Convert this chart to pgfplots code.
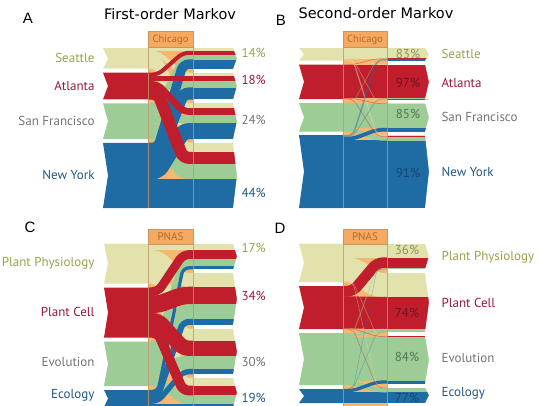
\documentclass[border=0pt]{standalone}
\usepackage{pgfplots}
\pgfplotsset{compat=1.18}
\usepackage{fontspec}
\setmainfont{PT Sans}
\newfontfamily\ttlfont{DejaVu Sans}
\newfontfamily\letfont{Liberation Sans}
\definecolor{cBe}{RGB}{226,227,172}
\definecolor{cRe}{RGB}{192,30,44}
\definecolor{cGr}{RGB}{158,204,150}
\definecolor{cBl}{RGB}{30,108,163}
\definecolor{cOr}{RGB}{248,182,110}
\definecolor{cBox}{RGB}{246,170,96}
\definecolor{cLine}{RGB}{196,150,105}
\definecolor{tOr}{RGB}{180,105,45}
\definecolor{tBe}{RGB}{155,160,75}
\definecolor{tRe}{RGB}{150,25,55}
\definecolor{tGr}{RGB}{110,118,110}
\definecolor{tBl}{RGB}{35,85,130}
\definecolor{pBe}{RGB}{140,145,100}
\definecolor{pRe}{RGB}{110,20,30}
\definecolor{pGr}{RGB}{80,120,80}
\definecolor{pBl}{RGB}{25,70,115}
% rectangle: color, x0, x1, y0, y1
\newcommand{\rect}[5]{\addplot[fill=#1,draw=none] coordinates {(#2,#4) (#3,#4) (#3,#5) (#2,#5)};}
% left block with notch: color, x0, xnotch, x1, T, B, M
\newcommand{\lblock}[7]{\addplot[fill=#1,draw=none] coordinates {(#2,#5) (#4,#5) (#4,#6) (#2,#6) (#3,#7)};}
% white cut for right chevron: x0, x1, xtip, T, B, M
\newcommand{\wcut}[6]{\addplot[fill=white,draw=none] coordinates {(#1,#4) (#2,#4) (#2,#5) (#1,#5) (#3,#6)};}
% flows: color, width, yLeft, yRight
\newcommand{\fa}[4]{\addplot[draw=#1,line width={#2pt+0.3pt},rounded corners=6pt] coordinates {(148,#3) (158,#3) (183,#4) (193,#4)};}
\newcommand{\fb}[4]{\addplot[draw=#1,line width={#2pt+0.3pt},rounded corners=6pt] coordinates {(343,#3) (353,#3) (377,#4) (387,#4)};}
\newcommand{\fbt}[4]{\addplot[draw=#1,line width=#2pt,opacity=0.45,rounded corners=6pt] coordinates {(343,#3) (353,#3) (377,#4) (387,#4)};}
\newcommand{\lab}{\fontsize{13}{15}\selectfont}
\begin{document}
\begin{tikzpicture}
\begin{axis}[scale only axis, width=539pt, height=405pt,
  xmin=0, xmax=539, ymin=0, ymax=405, y dir=reverse, hide axis, clip=true,
  anchor=south west, at={(0,0)}]
% ================= Panel A =================
\rect{cOr}{148}{193}{47}{208}
\lblock{cBe}{103}{108}{148}{48}{68.72}{58.36}
\lblock{cRe}{103}{108}{148}{72.72}{99.36}{86.04}
\lblock{cGr}{103}{108}{148}{103.36}{138.88}{121.12}
\lblock{cBl}{103}{108}{148}{142.88}{208}{175.44}
% right sub-bands
\rect{cBe}{193}{237}{48}{50.90}
\rect{cRe}{193}{237}{50.90}{54.63}
\rect{cGr}{193}{237}{54.63}{59.60}
\rect{cBl}{193}{237}{59.60}{68.72}
\rect{cBe}{193}{237}{72.72}{76.45}
\rect{cRe}{193}{237}{76.45}{81.25}
\rect{cGr}{193}{237}{81.25}{87.64}
\rect{cBl}{193}{237}{87.64}{99.36}
\rect{cBe}{193}{237}{103.36}{108.33}
\rect{cRe}{193}{237}{108.33}{114.72}
\rect{cGr}{193}{237}{114.72}{123.24}
\rect{cBl}{193}{237}{123.24}{138.88}
\rect{cBe}{193}{237}{142.88}{152.00}
\rect{cRe}{193}{237}{152.00}{163.72}
\rect{cGr}{193}{237}{163.72}{179.35}
\rect{cBl}{193}{237}{179.35}{208.0}
\wcut{233}{241}{237}{47.5}{69.2}{58.36}
\wcut{233}{241}{237}{72.2}{99.9}{86.04}
\wcut{233}{241}{237}{102.9}{139.4}{121.12}
\wcut{233}{241}{237}{142.4}{208.5}{175.44}
% flows
\fa{cBe}{2.90}{49.45}{49.45}
\fa{cBe}{3.73}{52.77}{74.59}
\fa{cBe}{4.97}{57.12}{105.85}
\fa{cBe}{9.12}{64.16}{147.44}
\fa{cGr}{4.97}{105.85}{57.12}
\fa{cGr}{6.39}{111.53}{84.45}
\fa{cGr}{8.52}{118.98}{118.98}
\fa{cGr}{15.63}{131.06}{171.54}
\fa{cBl}{9.12}{147.44}{64.16}
\fa{cBl}{11.72}{157.86}{93.50}
\fa{cBl}{15.63}{171.54}{131.06}
\fa{cBl}{28.65}{193.68}{193.68}
\fa{cRe}{3.73}{74.59}{52.77}
\fa{cRe}{4.80}{78.85}{78.85}
\fa{cRe}{6.39}{84.45}{111.53}
\fa{cRe}{11.72}{93.50}{157.86}
\addplot[draw=cLine,line width=0.6pt,opacity=0.8] coordinates {(148,31) (148,208)};
\addplot[draw=cLine,line width=0.6pt,opacity=0.8] coordinates {(193,31) (193,208)};
\addplot[fill=cBox,draw=cLine,line width=0.6pt] coordinates {(148,31) (193,31) (193,47) (148,47) (148,31)};
% ================= Panel B =================
\rect{cOr}{343}{387}{47}{208}
\lblock{cBe}{299}{304}{343}{48}{60.5}{54.25}
\lblock{cRe}{299}{304}{343}{64.5}{99}{81.75}
\lblock{cGr}{299}{304}{343}{103}{131.5}{117.25}
\lblock{cBl}{299}{304}{343}{135}{208}{171.5}
\rect{cBe}{387}{429}{48}{58.4}
\rect{cRe}{387}{429}{58.4}{58.7}
\rect{cGr}{387}{429}{58.7}{59.0}
\rect{cBl}{387}{429}{59.0}{60.5}
\rect{cBe}{387}{429}{64.5}{64.8}
\rect{cRe}{387}{429}{64.8}{98.2}
\rect{cGr}{387}{429}{98.2}{98.5}
\rect{cBl}{387}{429}{98.5}{99.0}
\rect{cBe}{387}{429}{103}{103.5}
\rect{cRe}{387}{429}{103.5}{103.8}
\rect{cGr}{387}{429}{103.8}{128.0}
\rect{cBl}{387}{429}{128.0}{131.5}
\rect{cBe}{387}{429}{135}{136.3}
\rect{cRe}{387}{429}{136.3}{136.8}
\rect{cGr}{387}{429}{136.8}{140.5}
\rect{cBl}{387}{429}{140.5}{208}
\wcut{425}{433}{429}{47.5}{61}{54.25}
\wcut{425}{433}{429}{64}{99.5}{81.75}
\wcut{425}{433}{429}{102.5}{132}{117.25}
\wcut{425}{433}{429}{134.5}{208.5}{171.5}
\fb{cBe}{10.4}{53.2}{53.2}
\fb{cRe}{33.4}{81.5}{81.5}
\fb{cGr}{24.2}{115.7}{115.9}
\fb{cBl}{67.5}{174.25}{174.25}
\fb{cGr}{3.7}{129.65}{138.65}
\fb{cBl}{3.5}{138.75}{129.75}
\fbt{cBe}{0.6}{58.55}{64.65}
\fbt{cBe}{0.6}{58.95}{103.25}
\fbt{cBe}{1.3}{59.85}{135.65}
\fbt{cRe}{0.6}{64.65}{58.55}
\fbt{cRe}{0.6}{98.35}{103.65}
\fbt{cRe}{0.6}{98.75}{136.55}
\fbt{cGr}{0.6}{103.15}{58.85}
\fbt{cGr}{0.6}{103.45}{98.35}
\fbt{cBl}{1.5}{135.75}{59.75}
\fbt{cBl}{0.6}{136.75}{98.75}
\addplot[draw=cLine,line width=0.6pt,opacity=0.8] coordinates {(343,31) (343,208)};
\addplot[draw=cLine,line width=0.6pt,opacity=0.8] coordinates {(387,31) (387,208)};
\addplot[fill=cBox,draw=cLine,line width=0.6pt] coordinates {(343,31) (387,31) (387,47) (343,47) (343,31)};
% ================= Panel C =================
\rect{cOr}{148}{193}{243.5}{407}
\lblock{cBe}{104}{108}{148}{243.5}{283.5}{263.5}
\lblock{cRe}{104}{108}{148}{287.5}{337.5}{312.5}
\lblock{cGr}{104}{108}{148}{341.5}{386}{363.75}
\lblock{cBl}{104}{108}{148}{390}{407}{398.5}
\rect{cBe}{193}{237}{243.5}{250.3}
\rect{cRe}{193}{237}{250.3}{258.8}
\rect{cGr}{193}{237}{258.8}{266.365}
\rect{cBl}{193}{237}{266.365}{269.255}
\rect{cBe}{193}{237}{273.255}{286.855}
\rect{cRe}{193}{237}{286.855}{303.855}
\rect{cGr}{193}{237}{303.855}{318.985}
\rect{cBl}{193}{237}{318.985}{324.765}
\rect{cBe}{193}{237}{328.765}{340.765}
\rect{cRe}{193}{237}{340.765}{355.765}
\rect{cGr}{193}{237}{355.765}{369.115}
\rect{cBl}{193}{237}{369.115}{374.215}
\rect{cBe}{193}{237}{378.215}{385.815}
\rect{cRe}{193}{237}{385.815}{395.315}
\rect{cGr}{193}{237}{395.315}{403.77}
\rect{cBl}{193}{237}{403.77}{407}
\wcut{233}{241}{237}{243}{269.7}{256.4}
\wcut{233}{241}{237}{272.8}{325.2}{299.0}
\wcut{233}{241}{237}{328.3}{374.7}{351.5}
\wcut{233}{241}{237}{377.7}{407.5}{392.6}
\fa{cBe}{6.8}{246.9}{246.9}
\fa{cBe}{13.6}{257.1}{280.055}
\fa{cBe}{12.0}{269.9}{334.765}
\fa{cBe}{7.6}{279.7}{382.015}
\fa{cGr}{7.565}{345.28}{262.58}
\fa{cGr}{15.13}{356.63}{311.42}
\fa{cGr}{13.35}{370.87}{362.44}
\fa{cGr}{8.455}{381.77}{399.54}
\fa{cBl}{2.89}{391.445}{267.81}
\fa{cBl}{5.78}{395.78}{321.875}
\fa{cBl}{5.1}{401.22}{371.665}
\fa{cBl}{3.23}{405.385}{405.385}
\fa{cRe}{8.5}{291.75}{254.55}
\fa{cRe}{17.0}{304.5}{295.355}
\fa{cRe}{15.0}{320.5}{348.265}
\fa{cRe}{9.5}{332.75}{390.565}
\addplot[draw=cLine,line width=0.6pt,opacity=0.8] coordinates {(148,229) (148,407)};
\addplot[draw=cLine,line width=0.6pt,opacity=0.8] coordinates {(193,229) (193,407)};
\addplot[fill=cBox,draw=cLine,line width=0.6pt] coordinates {(148,229) (193,229) (193,244) (148,244) (148,229)};
% ================= Panel D =================
\rect{cOr}{343}{387}{243.5}{407}
\lblock{cBe}{299}{304}{343}{243.5}{282}{262.75}
\lblock{cRe}{299}{304}{343}{286}{329}{307.5}
\lblock{cGr}{299}{304}{343}{333}{385}{359}
\lblock{cBl}{299}{304}{343}{389}{403}{396}
\rect{cBe}{387}{429}{243.5}{257.5}
\rect{cRe}{387}{429}{257.5}{268.0}
\rect{cGr}{387}{429}{268.0}{269.1}
\rect{cBe}{387}{429}{273.1}{297.1}
\rect{cRe}{387}{429}{297.1}{328.9}
\rect{cGr}{387}{429}{328.9}{332.0}
\rect{cBe}{387}{429}{336.0}{336.3}
\rect{cRe}{387}{429}{336.3}{336.8}
\rect{cGr}{387}{429}{336.8}{380.5}
\rect{cBl}{387}{429}{380.5}{383.5}
\rect{cGr}{387}{429}{387.5}{392.2}
\rect{cBl}{387}{429}{392.2}{403.0}
\wcut{425}{433}{429}{243}{269.6}{256.3}
\wcut{425}{433}{429}{272.6}{332.5}{302.55}
\wcut{425}{433}{429}{335.5}{384}{359.75}
\wcut{425}{433}{429}{387}{403.5}{395.25}
\fb{cBe}{14.0}{250.5}{250.5}
\fb{cBe}{24.0}{269.5}{285.1}
\fb{cGr}{43.7}{358.85}{358.65}
\fb{cBl}{10.8}{397.6}{397.6}
\fb{cRe}{31.8}{312.4}{313.0}
\fb{cRe}{10.5}{291.25}{262.75}
\fb{cGr}{3.0}{335.5}{330.4}
\fb{cGr}{4.3}{382.85}{390.05}
\fb{cBl}{3.0}{390.7}{382.0}
\fbt{cBe}{0.5}{281.65}{336.15}
\fbt{cBe}{0.5}{281.9}{387.6}
\fbt{cRe}{0.6}{328.55}{336.55}
\fbt{cRe}{0.5}{328.9}{387.8}
\fbt{cGr}{1.0}{333.5}{268.5}
\fbt{cBl}{0.4}{389.05}{269.05}
\fbt{cBl}{0.4}{389.15}{331.95}
\addplot[draw=cLine,line width=0.6pt,opacity=0.8] coordinates {(343,229) (343,407)};
\addplot[draw=cLine,line width=0.6pt,opacity=0.8] coordinates {(387,229) (387,407)};
\addplot[fill=cBox,draw=cLine,line width=0.6pt] coordinates {(343,229) (387,229) (387,244) (343,244) (343,229)};
% ================= Text =================
\node[font=\letfont\fontsize{15}{17}\selectfont] at (axis cs:28,18) {A};
\node[font=\letfont\fontsize{15}{17}\selectfont] at (axis cs:281,20) {B};
\node[font=\letfont\fontsize{15}{17}\selectfont] at (axis cs:30,227) {C};
\node[font=\letfont\fontsize{15}{17}\selectfont] at (axis cs:280,228) {D};
\node[font=\ttlfont\fontsize{14.5}{16}\selectfont] at (axis cs:170,14) {First-order Markov};
\node[font=\ttlfont\fontsize{14.5}{16}\selectfont] at (axis cs:376,13) {Second-order Markov};
\node[font=\fontsize{10.5}{12}\selectfont,text=tOr] at (axis cs:170.5,39.5) {Chicago};
\node[font=\fontsize{10.5}{12}\selectfont,text=tOr] at (axis cs:365,39.5) {Chicago};
\node[font=\fontsize{11}{12}\selectfont,text=tOr] at (axis cs:170.5,236.5) {PNAS};
\node[font=\fontsize{11}{12}\selectfont,text=tOr] at (axis cs:365,236.5) {PNAS};
% A labels
\node[anchor=east,font=\lab,text=tBe] at (axis cs:98,58) {Seattle};
\node[anchor=east,font=\lab,text=tRe] at (axis cs:98,86) {Atlanta};
\node[anchor=east,font=\lab,text=tGr] at (axis cs:98,121) {San Francisco};
\node[anchor=east,font=\lab,text=tBl] at (axis cs:98,175) {New York};
\node[anchor=west,font=\lab,text=tBe] at (axis cs:238,53) {14\%};
\node[anchor=west,font=\lab,text=tRe] at (axis cs:238,80) {18\%};
\node[anchor=west,font=\lab,text=tGr] at (axis cs:238,120) {24\%};
\node[anchor=west,font=\lab,text=tBl] at (axis cs:238,193) {44\%};
% B labels
\node[anchor=west,font=\lab,text=tBe] at (axis cs:438,54) {Seattle};
\node[anchor=west,font=\lab,text=tRe] at (axis cs:438,83) {Atlanta};
\node[anchor=west,font=\lab,text=tGr] at (axis cs:438,117) {San Francisco};
\node[anchor=west,font=\lab,text=tBl] at (axis cs:438,172) {New York};
\node[font=\lab,text=pBe] at (axis cs:408,54) {83\%};
\node[font=\lab,text=pRe] at (axis cs:408,83) {97\%};
\node[font=\lab,text=pGr] at (axis cs:408,114) {85\%};
\node[font=\lab,text=pBl] at (axis cs:408,173) {91\%};
% C labels
\node[anchor=east,font=\lab,text=tBe] at (axis cs:98,263) {Plant Physiology};
\node[anchor=east,font=\lab,text=tRe] at (axis cs:98,312) {Plant Cell};
\node[anchor=east,font=\lab,text=tGr] at (axis cs:98,362) {Evolution};
\node[anchor=east,font=\lab,text=tBl] at (axis cs:98,395) {Ecology};
\node[anchor=west,font=\lab,text=tBe] at (axis cs:238,248) {17\%};
\node[anchor=west,font=\lab,text=tRe] at (axis cs:238,296) {34\%};
\node[anchor=west,font=\lab,text=tGr] at (axis cs:238,362) {30\%};
\node[anchor=west,font=\lab,text=tBl] at (axis cs:238,398) {19\%};
% D labels
\node[anchor=west,font=\lab,text=tBe] at (axis cs:438,257) {Plant Physiology};
\node[anchor=west,font=\lab,text=tRe] at (axis cs:438,303) {Plant Cell};
\node[anchor=west,font=\lab,text=tGr] at (axis cs:438,358) {Evolution};
\node[anchor=west,font=\lab,text=tBl] at (axis cs:438,393) {Ecology};
\node[font=\lab,text=pBe] at (axis cs:407,250) {36\%};
\node[font=\lab,text=pRe] at (axis cs:407,313) {74\%};
\node[font=\lab,text=pGr] at (axis cs:407,357) {84\%};
\node[font=\lab,text=pBl] at (axis cs:407,398) {77\%};
\end{axis}
\pgfresetboundingbox
\path[use as bounding box] (0,0) rectangle (539pt,405pt);
\end{tikzpicture}
\end{document}
